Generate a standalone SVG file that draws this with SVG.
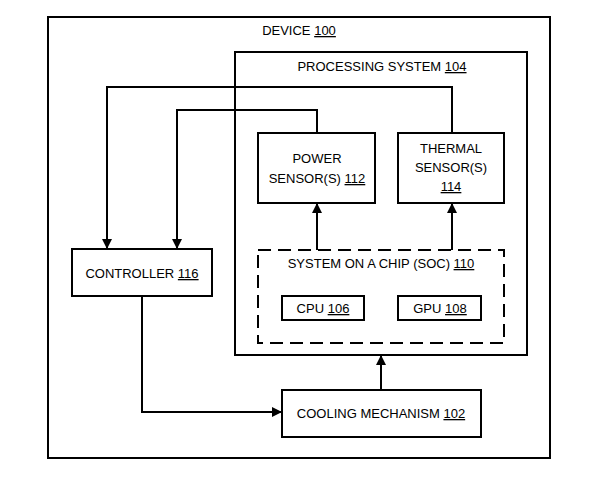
<svg xmlns="http://www.w3.org/2000/svg" width="599" height="480" viewBox="0 0 599 480">
<style>
.box{fill:#fff;stroke:#000;stroke-width:2}
.cont{fill:none;stroke:#000;stroke-width:2}
.dash{fill:none;stroke:#000;stroke-width:2;stroke-dasharray:13 7}
.t{font-family:"Liberation Sans",Arial,sans-serif;font-size:13px;fill:#000;text-anchor:middle}
.u{text-decoration:underline}
.c{fill:none;stroke:#000;stroke-width:2}
</style>
<defs>
<marker id="arr" viewBox="0 0 10 10" refX="10" refY="5" markerWidth="5" markerHeight="5" orient="auto" markerUnits="strokeWidth">
<path d="M0,0 L10,5 L0,10 z" fill="#000"/>
</marker>
</defs>
<rect width="599" height="480" fill="#fff"/>
<g id="device">
<rect class="cont" x="48" y="17" width="502" height="441"/>
<text class="t" x="299" y="35">DEVICE <tspan class="u">100</tspan></text>
</g>
<g id="processing-system">
<rect class="cont" x="235" y="52" width="292" height="303"/>
<text class="t" x="382" y="71">PROCESSING SYSTEM <tspan class="u">104</tspan></text>
</g>
<g id="power-sensor">
<rect class="box" x="258" y="133" width="117" height="70"/>
<text class="t" x="317" y="163">POWER</text>
<text class="t" x="317" y="183">SENSOR(S) <tspan class="u">112</tspan></text>
</g>
<g id="thermal-sensor">
<rect class="box" x="398" y="133" width="106" height="70"/>
<text class="t" x="451" y="153">THERMAL</text>
<text class="t" x="451" y="172">SENSOR(S)</text>
<text class="t u" x="451" y="191">114</text>
</g>
<g id="soc">
<rect class="dash" x="258" y="250" width="246" height="93"/>
<text class="t" x="381" y="268">SYSTEM ON A CHIP (SOC) <tspan class="u">110</tspan></text>
</g>
<g id="cpu">
<rect class="box" x="282" y="296" width="82" height="24"/>
<text class="t" x="323" y="313">CPU <tspan class="u">106</tspan></text>
</g>
<g id="gpu">
<rect class="box" x="398" y="296" width="83" height="24"/>
<text class="t" x="440" y="313">GPU <tspan class="u">108</tspan></text>
</g>
<g id="controller">
<rect class="box" x="72" y="249" width="140" height="47"/>
<text class="t" x="142" y="278">CONTROLLER <tspan class="u">116</tspan></text>
</g>
<g id="cooling">
<rect class="box" x="282" y="390" width="199" height="47"/>
<text class="t" x="381" y="418">COOLING MECHANISM <tspan class="u">102</tspan></text>
</g>
<g id="connectors">
<path class="c" d="M452,133 V87 H107 V249" marker-end="url(#arr)"/>
<path class="c" d="M317,133 V110 H177 V249" marker-end="url(#arr)"/>
<path class="c" d="M317,250 V203" marker-end="url(#arr)"/>
<path class="c" d="M452,250 V203" marker-end="url(#arr)"/>
<path class="c" d="M381,390 V355" marker-end="url(#arr)"/>
<path class="c" d="M142,296 V412 H282" marker-end="url(#arr)"/>
</g>
</svg>
